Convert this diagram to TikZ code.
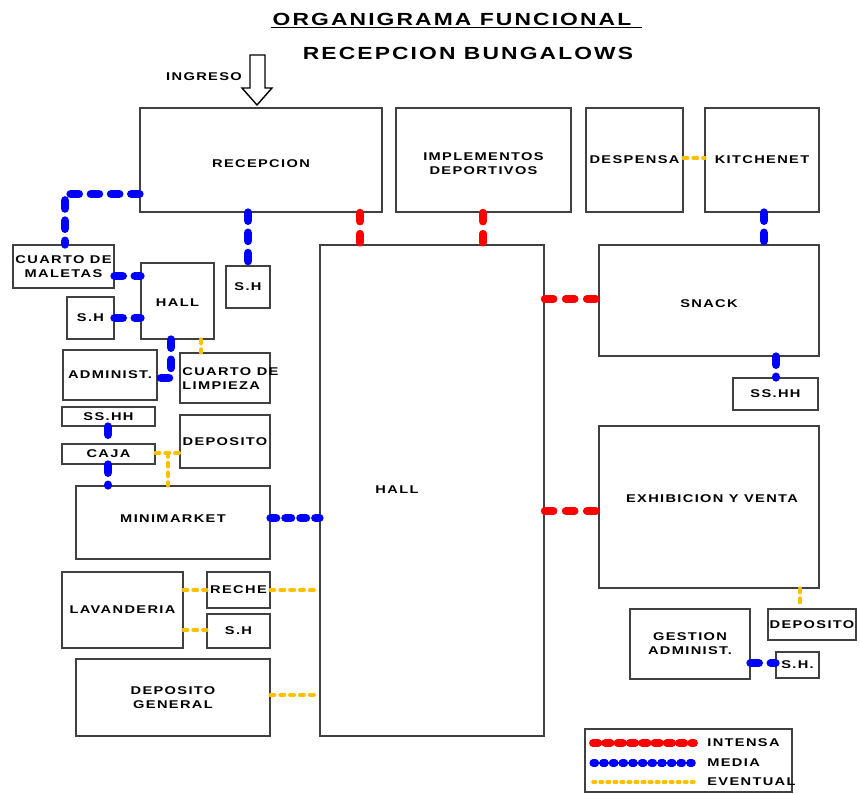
\documentclass[tikz,border=0pt]{standalone}
\usepackage{fontspec}
\setmainfont{Liberation Sans}
\newfontfamily\roomfont[FakeStretch=1.3,LetterSpace=12]{Liberation Sans}
\usetikzlibrary{fit,calc}
\definecolor{intensa}{HTML}{FF0000}
\definecolor{media}{HTML}{0000FF}
\definecolor{eventual}{HTML}{FFC000}
\tikzset{
  room/.style={
    rectangle, draw=black!75, line width=0.8pt, inner sep=0pt,
  },
  roomtext/.style={
    inner sep=0pt, font=\roomfont\bfseries\fontsize{6.4}{8}\selectfont,
    align=center,
  },
  titletext/.style={
    inner sep=1pt, font=\roomfont\bfseries\fontsize{10}{12}\selectfont,
  },
  flowIntensa/.style={
    draw=intensa, line width=4.5pt, line cap=round,
    dash pattern=on 5pt off 7pt,
  },
  flowMedia/.style={
    draw=media, line width=5pt, line cap=round,
    dash pattern=on 4.5pt off 7pt,
  },
  flowEventual/.style={
    draw=eventual, line width=2.6pt, line cap=round,
    dash pattern=on 2pt off 3.6pt,
  },
}

\begin{document}
\begin{tikzpicture}[x=0.02cm, y=-0.02cm]
\useasboundingbox (0,0) rectangle (860,794);

% titles
\node[titletext] (titleA) at (452,19) {ORGANIGRAMA FUNCIONAL};
\draw[line width=0.8pt] (titleA.south west) -- ([xshift=5pt]titleA.south east);
\node[titletext] (titleB) at (468,53) {RECEPCION BUNGALOWS};

% entrance
\node[roomtext] (ingreso) at (204,77) {INGRESO};
\coordinate (ingresoTip) at (257,105);
\draw[line width=0.8pt, fill=white]
  ($(ingresoTip)+(-7,-50)$) -- ($(ingresoTip)+(8,-50)$) -- ($(ingresoTip)+(8,-17)$)
  -- ($(ingresoTip)+(15,-17)$) -- (ingresoTip) -- ($(ingresoTip)+(-15,-17)$)
  -- ($(ingresoTip)+(-7,-17)$) -- cycle;

% top row
\node[room, fit={(140,108) (382,212)}, label={[roomtext, yshift=-2pt]center:RECEPCION}] (recep) {};
\node[room, fit={(396,108) (571,212)}, label={[roomtext, yshift=-2pt]center:{IMPLEMENTOS\\DEPORTIVOS}}] (implem) {};
\node[room, fit={(586,108) (683,212)}, label={[roomtext]center:DESPENSA}] (despensa) {};
\node[room, fit={(705,108) (819,212)}, label={[roomtext]center:KITCHENET}] (kitchen) {};

% central hall
\node[room, fit={(320,245) (544,736)}] (hall) {};
\node[roomtext] (hallText) at (397,490) {HALL};

% right side
\node[room, fit={(599,245) (819,356)}, label={[roomtext, yshift=-2pt]center:SNACK}] (snack) {};
\node[room, fit={(733,378) (818,410)}, label={[roomtext]center:SS.HH}] (ssSnack) {};
\node[room, fit={(599,426) (819,588)}] (exhib) {};
\node[roomtext] (exhibText) at (712,499) {EXHIBICION Y VENTA};
\node[room, fit={(768,609) (856,640)}, label={[roomtext]center:DEPOSITO}] (depRight) {};
\node[room, fit={(630,609) (750,679)}, label={[roomtext]center:{GESTION\\ADMINIST.}}] (gestion) {};
\node[room, fit={(776,652) (819,678)}, label={[roomtext]center:S.H.}] (shGestion) {};

% left side
\node[room, fit={(13,245) (114,288)}, label={[roomtext]center:{CUARTO DE\\MALETAS}}] (maletas) {};
\node[room, fit={(141,263) (214,339)}, label={[roomtext, yshift=-1pt]center:HALL}] (hallSmall) {};
\node[room, fit={(226,266) (270,308)}, label={[roomtext]center:S.H}] (shRecep) {};
\node[room, fit={(67,297) (114,339)}, label={[roomtext]center:S.H}] (shHall) {};
\node[room, fit={(63,350) (157,400)}, label={[roomtext]center:ADMINIST.}] (admin) {};
\node[room, fit={(180,353) (270,403)}] (limpieza) {};
\node[roomtext, align=left, anchor=west] (limpiezaText) at (182,379) {CUARTO DE\\LIMPIEZA};
\node[room, fit={(62,407) (155,426)}, label={[roomtext]center:SS.HH}] (ssLeft) {};
\node[room, fit={(62,444) (155,464)}, label={[roomtext]center:CAJA}] (caja) {};
\node[room, fit={(180,415) (270,468)}, label={[roomtext]center:DEPOSITO}] (depLeft) {};
\node[room, fit={(76,486) (270,559)}, label={[roomtext, yshift=2pt]center:MINIMARKET}] (minimarket) {};
\node[room, fit={(62,572) (183,648)}, label={[roomtext]center:LAVANDERIA}] (lavan) {};
\node[room, fit={(207,572) (270,608)}, label={[roomtext]center:RECHE}] (reche) {};
\node[room, fit={(207,614) (270,648)}, label={[roomtext]center:S.H}] (shLavan) {};
\node[room, fit={(76,659) (270,736)}, label={[roomtext]center:{DEPOSITO\\GENERAL}}] (depGeneral) {};

% intensa
\draw[flowIntensa] (360,0 |- recep.south) -- (360,0 |- hall.north);
\draw[flowIntensa] (483,0 |- implem.south) -- (483,0 |- hall.north);
\draw[flowIntensa] (0,299 -| hall.east) -- (0,299 -| snack.west);
\draw[flowIntensa] (0,511 -| hall.east) -- (0,511 -| exhib.west);

% media
\draw[flowMedia] (0,194 -| recep.west) -| (65,0 |- maletas.north);
\draw[flowMedia] (248,0 |- recep.south) -- (248,0 |- shRecep.north);
\draw[flowMedia] (0,276 -| maletas.east) -- (0,276 -| hallSmall.west);
\draw[flowMedia] (0,318 -| shHall.east) -- (0,318 -| hallSmall.west);
\draw[flowMedia] (171,0 |- hallSmall.south) |- (0,378 -| admin.east);
\draw[flowMedia] (108,0 |- ssLeft.south) -- (108,0 |- caja.north);
\draw[flowMedia] (108,0 |- caja.south) -- (108,0 |- minimarket.north);
\draw[flowMedia, dash pattern=on 3pt off 5.5pt] (0,518 -| minimarket.east) -- (0,518 -| hall.west);
\draw[flowMedia] (764,0 |- kitchen.south) -- (764,0 |- snack.north);
\draw[flowMedia] (776,0 |- snack.south) -- (776,0 |- ssSnack.north);
\draw[flowMedia] (0,663 -| gestion.east) -- (0,663 -| shGestion.west);

% eventual
\draw[flowEventual] (0,158 -| despensa.east) -- (0,158 -| kitchen.west);
\draw[flowEventual] (201,0 |- hallSmall.south) -- (201,0 |- limpieza.north);
\draw[flowEventual] (0,453 -| caja.east) -- (0,453 -| depLeft.west);
\draw[flowEventual] (168,453) -- (168,0 |- minimarket.north);
\draw[flowEventual] (0,590 -| lavan.east) -- (0,590 -| reche.west);
\draw[flowEventual] (0,590 -| reche.east) -- (0,590 -| hall.west);
\draw[flowEventual] (0,630 -| lavan.east) -- (0,630 -| shLavan.west);
\draw[flowEventual] (0,695 -| depGeneral.east) -- (0,695 -| hall.west);
\draw[flowEventual] (800,0 |- exhib.south) -- (800,0 |- depRight.north);

% legend
\node[room, fit={(585,729) (792,792)}] (legend) {};
\coordinate (legA) at (593,743);
\coordinate (legB) at (593,763);
\coordinate (legC) at (593,782);
\draw[flowIntensa, dash pattern=on 3pt off 4pt] (legA) -- ++(101,0);
\draw[flowMedia, line width=4pt, dash pattern=on 1.5pt off 4pt] (legB) -- ++(101,0);
\draw[media, line width=1.5pt] (legB) -- ++(101,0);
\draw[flowEventual, line width=2pt, dash pattern=on 1.5pt off 2.5pt] (legC) -- ++(101,0);
\node[roomtext, anchor=west] (legIntensa) at (707,743) {INTENSA};
\node[roomtext, anchor=west] (legMedia) at (707,763) {MEDIA};
\node[roomtext, anchor=west] (legEventual) at (707,782) {EVENTUAL};

\end{tikzpicture}
\end{document}
